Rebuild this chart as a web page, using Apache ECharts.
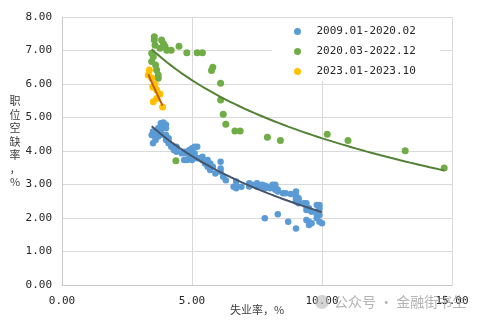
<!DOCTYPE html>
<html><head><meta charset="utf-8">
<script src="https://cdn.jsdelivr.net/npm/echarts@6/dist/echarts.min.js"></script>
<style>html,body{margin:0;padding:0;background:#fff}#c{width:478px;height:322px}</style>
</head><body><div id="c"></div>
<script>
const seriesNames = ['2009.01-2020.02', '2020.03-2022.12', '2023.01-2023.10'];
const xAxisName = '失业率，%';
const yAxisName = '职位空缺率，%';
const watermark = '公众号 · 金融街书生';

// [unemployment rate, job openings rate]
const blueData = [
  [7.8,1.99],[8.3,2.11],[8.7,1.89],[9.0,1.69],[9.4,1.94],[9.5,1.79],[9.5,1.89],[9.6,1.84],[9.8,1.99],[10.0,1.84],[9.9,1.89],[9.9,2.09],
  [9.8,2.09],[9.8,2.19],[9.9,2.29],[9.9,2.39],[9.6,2.19],[9.4,2.34],[9.4,2.24],[9.5,2.24],[9.5,2.29],[9.4,2.44],[9.8,2.39],[9.3,2.44],
  [9.1,2.44],[9.0,2.54],[9.0,2.49],[9.1,2.59],[9.0,2.64],[9.1,2.54],[9.0,2.69],[9.0,2.59],[9.0,2.79],[8.8,2.72],[8.6,2.74],[8.5,2.74],
  [8.3,2.84],[8.3,2.79],[8.2,2.89],[8.2,2.94],[8.2,2.84],[8.2,2.99],[8.2,2.89],[8.1,2.99],[7.8,2.89],[7.8,2.96],[7.7,2.93],[7.9,2.93],
  [8.0,2.89],[7.7,2.99],[7.5,2.93],[7.6,2.96],[7.5,3.04],[7.5,2.99],[7.3,2.99],[7.2,2.99],[7.2,3.04],[7.2,2.94],[6.9,2.93],[6.7,2.89],
  [6.6,2.93],[6.7,3.09],[6.7,2.94],[6.2,3.23],[6.3,3.13],[6.1,3.38],[6.1,3.68],[6.1,3.48],[5.9,3.33],[5.7,3.43],[5.8,3.53],[5.6,3.53],
  [5.7,3.63],[5.5,3.63],[5.4,3.73],[5.4,3.83],[5.6,3.73],[5.3,3.78],[5.2,3.78],[5.1,3.83],[5.0,3.83],[5.0,3.73],[5.1,3.93],[5.0,3.88],
  [4.8,3.73],[4.9,3.88],[5.0,4.03],[5.1,4.13],[4.8,3.93],[4.9,3.98],[4.8,3.98],[4.9,4.03],[5.0,4.08],[5.2,4.13],[4.7,3.73],[4.7,3.93],
  [4.7,3.98],[4.6,3.93],[4.4,4.03],[4.4,4.13],[4.4,4.08],[4.3,4.13],[4.3,4.03],[4.4,3.98],[4.2,4.18],[4.1,4.28],[4.2,4.13],[4.1,4.23],
  [4.0,4.33],[4.1,4.38],[4.0,4.48],[4.0,4.43],[3.8,4.58],[4.0,4.68],[3.8,4.73],[3.8,4.83],[3.7,4.68],[3.8,4.63],[3.8,4.73],[3.9,4.85],
  [4.0,4.78],[3.8,4.48],[3.8,4.63],[3.7,4.58],[3.6,4.53],[3.6,4.48],[3.7,4.43],[3.6,4.38],[3.5,4.58],[3.6,4.48],[3.6,4.33],[3.6,4.43],
  [3.5,4.23],[3.45,4.48]
];
const greenData = [
  [4.38,3.71],[14.7,3.49],[13.2,4.01],[11.0,4.31],[10.2,4.50],[8.4,4.31],[7.9,4.41],[6.85,4.60],[6.65,4.60],[6.3,4.80],
  [6.2,5.10],[6.1,5.52],[6.1,6.02],[5.8,6.50],[5.75,6.40],[5.4,6.93],[5.2,6.93],[4.8,6.93],[4.5,7.13],[4.2,7.01],
  [3.96,7.13],[4.03,7.01],[3.9,7.21],[3.83,7.31],[3.77,7.07],[3.58,7.16],[3.55,7.31],[3.55,7.41],[3.45,6.92],[3.51,6.81],
  [3.45,6.67],[3.6,6.57],[3.64,6.42],[3.7,6.27],[3.7,6.17]
];
const orangeData = [
  [3.36,6.42],[3.32,6.27],[3.45,6.18],[3.58,6.00],[3.49,5.91],[3.64,5.82],[3.77,5.70],[3.64,5.57],[3.51,5.47],[3.87,5.31]
];
const xTicks = { min: 0, max: 15, interval: 5 };
const yTicks = { min: 0, max: 8, interval: 1 };

// logarithmic trendline (least squares of y on ln x), drawn over the data's x range
function logTrend(data) {
  const n = data.length;
  let sx = 0, sy = 0, sxx = 0, sxy = 0, mn = Infinity, mx = -Infinity;
  data.forEach(([x, y]) => { const l = Math.log(x); sx += l; sy += y; sxx += l * l; sxy += l * y; mn = Math.min(mn, x); mx = Math.max(mx, x); });
  const b = (n * sxy - sx * sy) / (n * sxx - sx * sx);
  const a = (sy - b * sx) / n;
  const pts = [];
  const steps = 60;
  for (let i = 0; i <= steps; i++) { const x = mn + (mx - mn) * i / steps; pts.push([x, a + b * Math.log(x)]); }
  return pts;
}

const colors = ['#5B9BD5', '#70AD47', '#FFC000'];
const trendColors = ['#44546A', '#548235', '#C55A11'];
const allData = [blueData, greenData, orangeData];
const monoFont = '"DejaVu Sans Mono", monospace';
const cjkFont = '"Noto Sans CJK SC", sans-serif';

const series = [];
allData.forEach((d, i) => {
  series.push({
    name: seriesNames[i], type: 'scatter', data: d, symbol: 'circle',
    symbolSize: i === 0 ? 6.5 : 7, itemStyle: { color: colors[i], opacity: 1 }, z: 2 + i
  });
});
allData.forEach((d, i) => {
  series.push({
    name: 'trend' + i, type: 'line', data: logTrend(d), showSymbol: false, silent: true,
    lineStyle: { color: trendColors[i], width: 2 }, z: 6
  });
});

// vertical, stacked y-axis title (one text element per character)
const yNameGraphics = yAxisName.split('').map((ch, i) => ({
  type: 'text', x: 15, y: 101 + i * 13.5, silent: true,
  style: { text: ch, font: '11px ' + cjkFont, fill: '#404040', align: 'center', verticalAlign: 'middle' }
}));

const chart = echarts.init(document.getElementById('c'), null, { renderer: 'canvas' });
chart.setOption({
  animation: false,
  backgroundColor: '#fff',
  grid: { left: 62, right: 26, top: 17, bottom: 37, containLabel: false, outerBoundsMode: 'none' },
  xAxis: {
    type: 'value', min: xTicks.min, max: xTicks.max, interval: xTicks.interval,
    name: xAxisName, nameLocation: 'middle', nameGap: 19, nameMoveOverlap: false,
    nameTextStyle: { fontFamily: cjkFont, fontSize: 11, color: '#404040' },
    axisLine: { show: true, lineStyle: { color: '#c8c8c8', width: 1 } },
    axisTick: { show: false },
    axisLabel: { margin: 11, fontFamily: monoFont, fontSize: 11, color: '#262626', formatter: v => v.toFixed(2) },
    splitLine: { show: true, lineStyle: { color: '#d9d9d9', width: 1 } }
  },
  yAxis: {
    type: 'value', min: yTicks.min, max: yTicks.max, interval: yTicks.interval,
    axisLine: { show: true, lineStyle: { color: '#c8c8c8', width: 1 } },
    axisTick: { show: false },
    axisLabel: { margin: 10, fontFamily: monoFont, fontSize: 11, color: '#262626', formatter: v => v.toFixed(2) },
    splitLine: { show: true, lineStyle: { color: '#d9d9d9', width: 1 } }
  },
  legend: {
    data: seriesNames, orient: 'vertical', left: 272, top: 18,
    padding: [8, 24, 4, 22], itemGap: 9, itemWidth: 28, itemHeight: 7,
    backgroundColor: '#fff', icon: 'circle',
    textStyle: { fontFamily: monoFont, fontSize: 11, color: '#262626' }
  },
  graphic: yNameGraphics.concat([
    { type: 'circle', shape: { cx: 322, cy: 302, r: 7 }, style: { fill: '#b8b8b8', opacity: 0.6 }, silent: true, z: 100 },
    { type: 'text', x: 334, y: 302, silent: true, z: 100,
      style: { text: watermark, font: '14px ' + cjkFont, fill: '#9a9a9a', opacity: 0.75, verticalAlign: 'middle' } }
  ]),
  series: series
});
</script></body></html>
